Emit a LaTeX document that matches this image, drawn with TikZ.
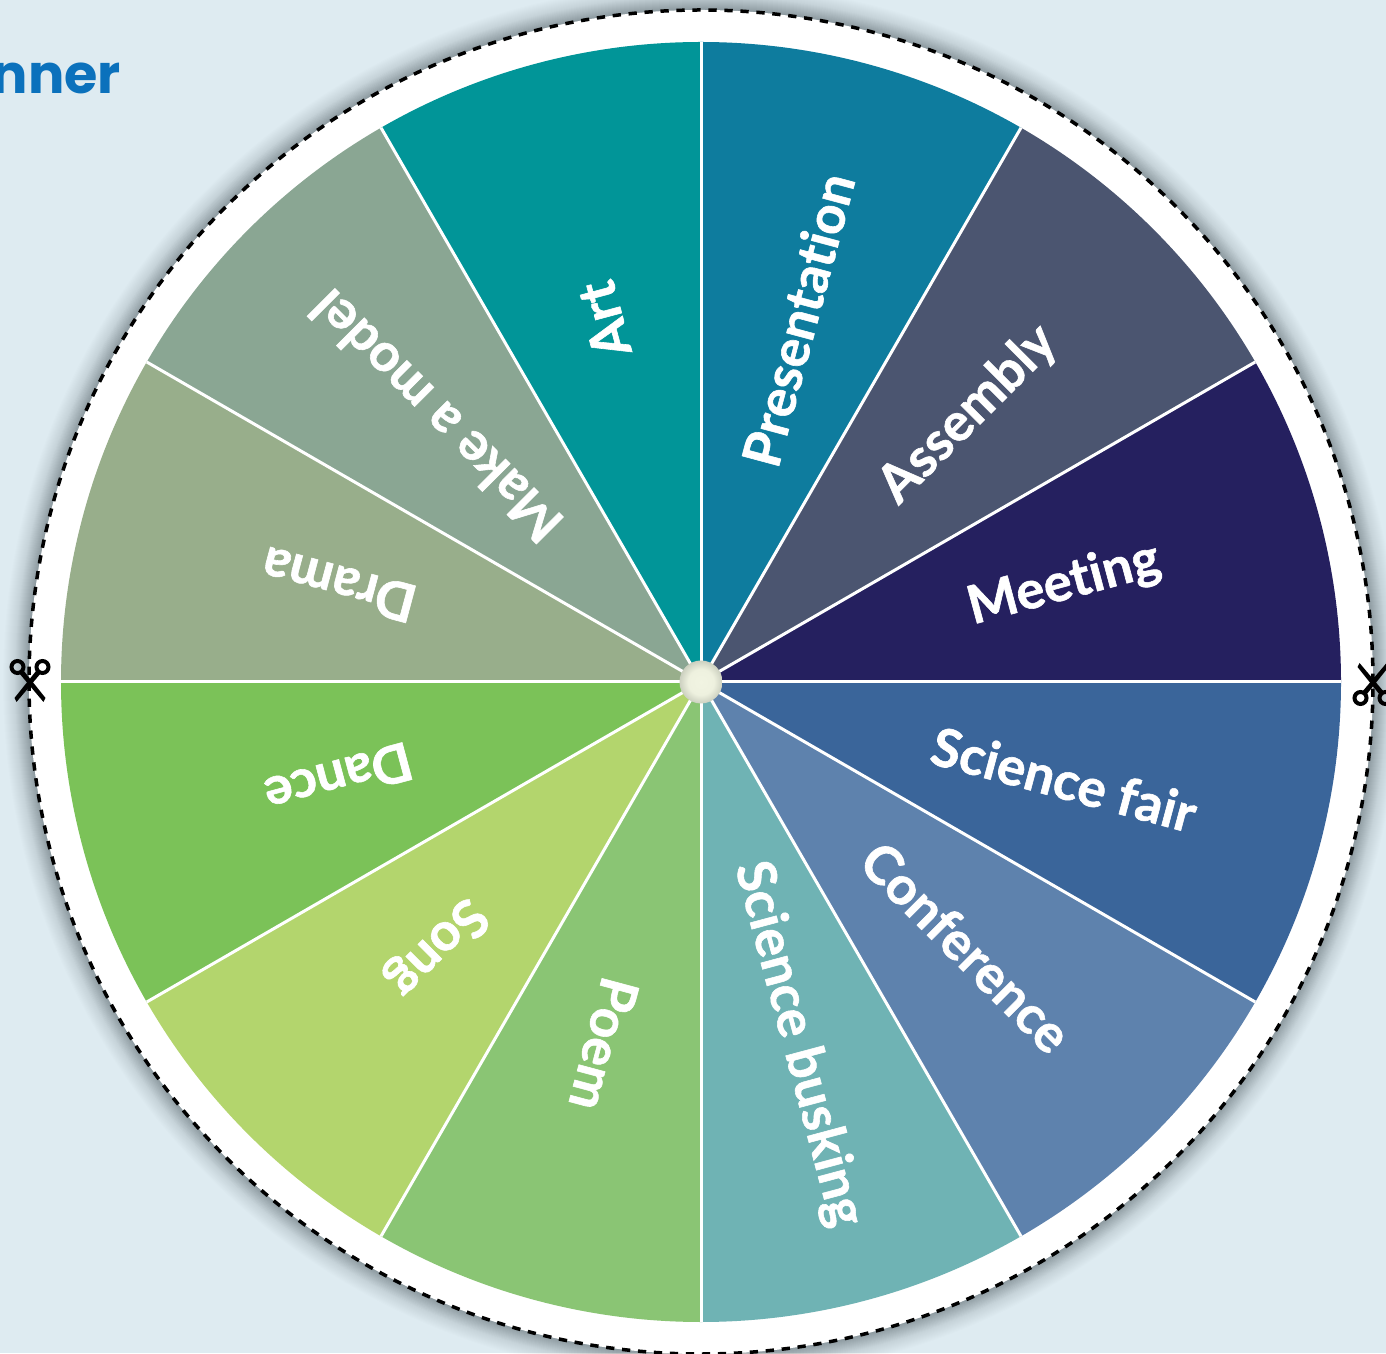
\documentclass[tikz,border=0pt]{standalone}
\usepackage{fontspec}
\setmainfont{Lato}[Ligatures=NoCommon,BoldFeatures={FakeBold=1.1}]
\newfontfamily\titlefont{Poppins}
\definecolor{bgc}{HTML}{DEEBF1}
\definecolor{titlec}{HTML}{0B71BC}
\definecolor{wPres}{HTML}{0E7C9E}
\definecolor{wAsse}{HTML}{4B5570}
\definecolor{wMeet}{HTML}{25205F}
\definecolor{wFair}{HTML}{3A659A}
\definecolor{wConf}{HTML}{5E82AD}
\definecolor{wBusk}{HTML}{6FB3B4}
\definecolor{wPoem}{HTML}{8AC574}
\definecolor{wSong}{HTML}{B3D56D}
\definecolor{wDanc}{HTML}{7BC258}
\definecolor{wDram}{HTML}{98AE8B}
\definecolor{wMode}{HTML}{8AA693}
\definecolor{wArt}{HTML}{019598}
\definecolor{hubin}{HTML}{F1F4E2}
\definecolor{hubmid}{HTML}{EEF1DF}
\definecolor{hubout}{HTML}{CCD0C0}
\pgfdeclareradialshading{hubshade}{\pgfpointorigin}{
  color(0bp)=(hubin);
  color(15bp)=(hubmid);
  color(25bp)=(hubout);
  color(50bp)=(hubout)}
\tikzset{
  x=1pt,y=1pt,
  wedgelabel/.style={text=white,font=\fontsize{53}{64}\selectfont\bfseries,anchor=center,inner sep=0pt},
  wedgeline/.style={draw=white,line width=3pt},
  cutline/.style={draw=black,line width=3.5pt,dash pattern=on 8.3pt off 7.7pt},
  snipblade/.style={fill=black,draw=none},
  snipring/.style={draw=black,line width=4pt},
  pics/snips/.style={code={
    \draw[snipring] (-12.5,14) circle (6);
    \draw[snipring] (12.5,14) circle (6);
    \fill[snipblade] (-11,8) -- (-6.5,10.5) -- (15.5,-17) -- (13.5,-21) -- cycle;
    \fill[snipblade] (11,8) -- (6.5,10.5) -- (-15.5,-17) -- (-13.5,-21) -- cycle;
  }}
}
\begin{document}
\begin{tikzpicture}
\useasboundingbox (0,0) rectangle (1386,1353);
\fill[bgc] (0,0) rectangle (1386,1353);
\coordinate (hub) at (701,671);
\begin{scope}
\clip (0,0) rectangle (1386,1353);
\foreach \r in {698,697,...,673}{
  \fill[black,opacity=0.008] (hub) circle (\r);
}
\foreach \r in {686,685,...,673}{
  \fill[black,opacity=0.008] (hub) circle (\r);
}
\fill[white] (hub) circle (672);
\draw[cutline] (hub) circle (672);
\foreach \s/\c in {60/wPres,30/wAsse,0/wMeet,-30/wFair,-60/wConf,-90/wBusk,-120/wPoem,-150/wSong,-180/wDanc,-210/wDram,-240/wMode,-270/wArt}{
  \fill[\c] (hub) -- ++(\s:640) arc[start angle=\s,delta angle=30,radius=640] -- cycle;
}
\foreach \s in {0,30,...,330}{
  \draw[wedgeline] (hub) -- ++(\s:640);
}
\node[wedgelabel,rotate=75] (lPres) at ([shift={(75:375)}]hub) {Presentation};
\node[wedgelabel,rotate=45] (lAsse) at ([shift={(45:378)}]hub) {Assembly};
\node[wedgelabel,rotate=15] (lMeet) at ([shift={(15:376)}]hub) {Meeting};
\node[wedgelabel,rotate=-15] (lFair) at ([shift={(-15:376)}]hub) {Science fair};
\node[wedgelabel,rotate=-45] (lConf) at ([shift={(-45:375)}]hub) {Conference};
\node[wedgelabel,rotate=-75] (lBusk) at ([shift={(-75:375)}]hub) {Science busking};
\node[wedgelabel,rotate=255] (lPoem) at ([shift={(255:375)}]hub) {Poem};
\node[wedgelabel,rotate=225] (lSong) at ([shift={(225:375)}]hub) {Song};
\node[wedgelabel,rotate=195] (lDanc) at ([shift={(195:375)}]hub) {Dance};
\node[wedgelabel,rotate=165] (lDram) at ([shift={(165:375)}]hub) {Drama};
\node[wedgelabel,rotate=135] (lMode) at ([shift={(135:375)}]hub) {Make a model};
\node[wedgelabel,rotate=105] (lArt) at ([shift={(105:375)}]hub) {Art};
\shade[shading=hubshade] (hub) circle (21.5);
\node[anchor=base east,inner sep=0pt,text=titlec,font=\titlefont\fontsize{54}{64}\selectfont\bfseries] (title) at (121,1259) {nner};
\pic at (30,672) {snips};
\pic[rotate=180] at (1373,669) {snips};
\end{scope}
\end{tikzpicture}
\end{document}
